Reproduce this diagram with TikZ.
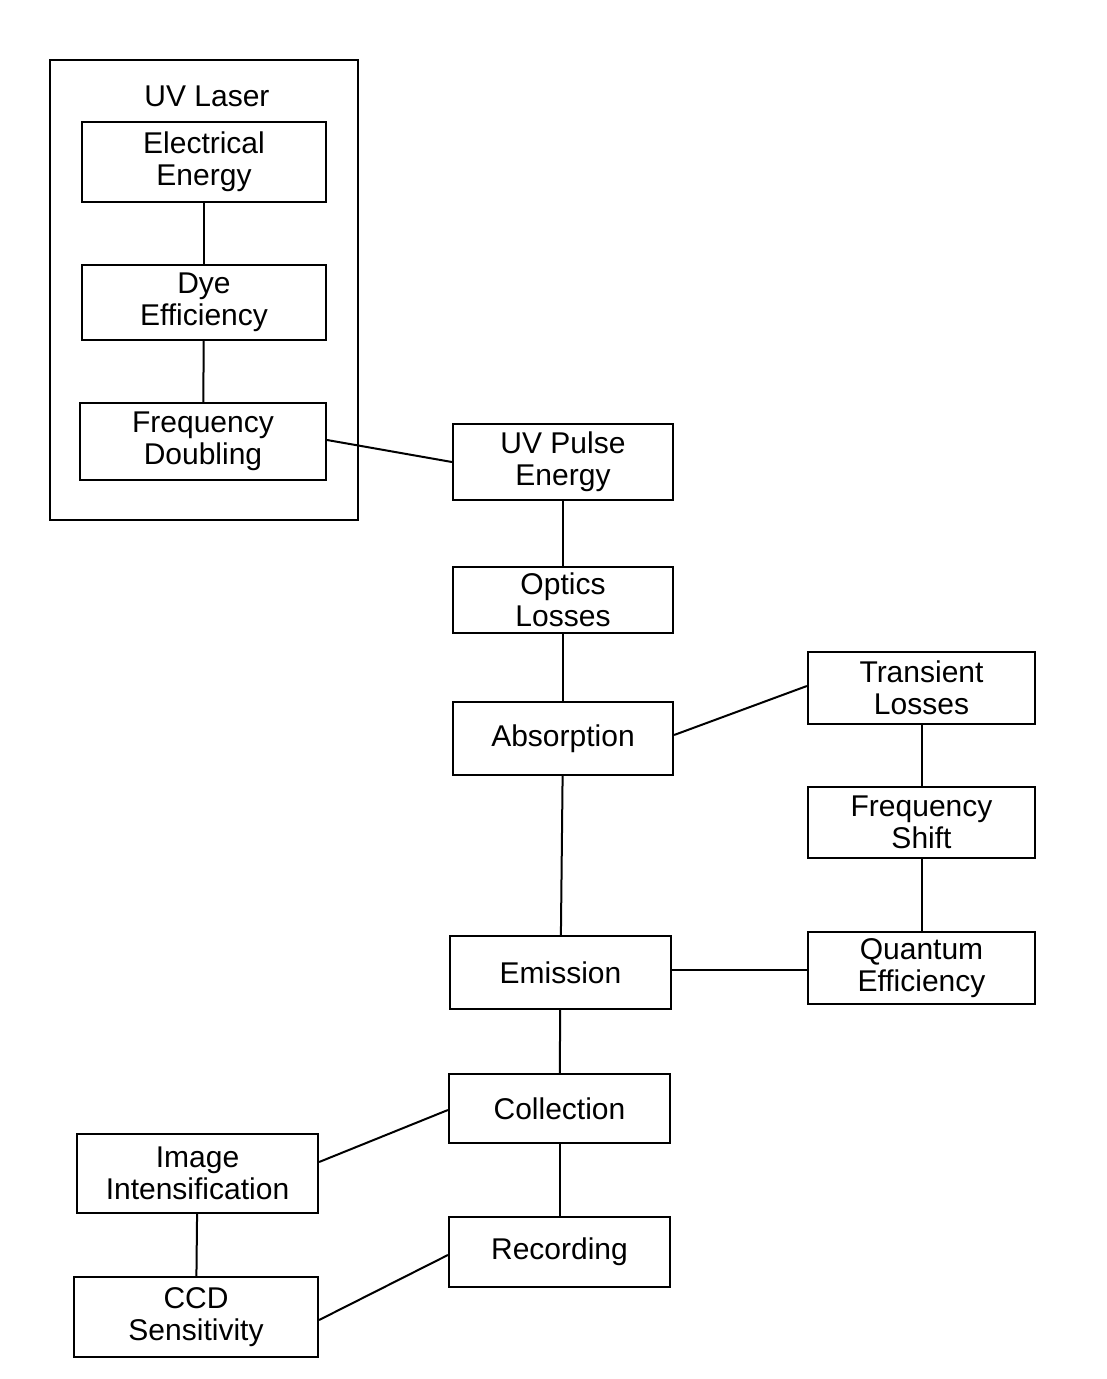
\documentclass[tikz,border=0pt]{standalone}
\usepackage{fontspec}
\setmainfont{Liberation Sans}
\begin{document}
\begin{tikzpicture}[x=1pt,y=-1pt,
  bx/.style={draw,line width=2.2pt,align=center,inner sep=0pt,font=\fontsize{30}{32}\selectfont},
  ln/.style={line width=2pt}]
\useasboundingbox[fill=white] (0,0) rectangle (1106,1379);
\newcommand{\bxat}[6]{\node[bx,minimum width=#4-#2,minimum height=#5-#3] (#1) at ({(#2+#4)/2},{(#3+#5)/2}) {#6};}
\node[draw,line width=2.2pt,minimum width=308,minimum height=460] (laser) at (204,290) {};
\node[font=\fontsize{30}{32}\selectfont] (lasert) at (207,96) {UV Laser};
\bxat{ee}{82}{122}{326}{202}{Electrical\\Energy}
\bxat{dye}{82}{265}{326}{340}{Dye\\Efficiency}
\bxat{fd}{80}{403}{326}{480}{Frequency\\Doubling}
\bxat{uv}{453}{424}{673}{500}{UV Pulse\\Energy}
\bxat{opt}{453}{567}{673}{633}{Optics\\Losses}
\bxat{abs}{453}{702}{673}{775}{Absorption}
\bxat{tl}{808}{652}{1035}{724}{Transient\\Losses}
\bxat{fs}{808}{787}{1035}{858}{Frequency\\Shift}
\bxat{qe}{808}{932}{1035}{1004}{Quantum\\Efficiency}
\bxat{em}{450}{936}{671}{1009}{Emission}
\bxat{col}{449}{1074}{670}{1143}{Collection}
\bxat{ii}{77}{1134}{318}{1213}{Image\\Intensification}
\bxat{rec}{449}{1217}{670}{1287}{Recording}
\bxat{ccd}{74}{1277}{318}{1357}{CCD\\Sensitivity}
\draw[ln] (ee) -- (dye);
\draw[ln] (dye) -- (fd);
\draw[ln] (fd.east |- 0,440) -- (uv.west |- 0,462);
\draw[ln] (uv) -- (opt);
\draw[ln] (opt) -- (abs);
\draw[ln] (abs.east |- 0,735) -- (tl.west |- 0,686);
\draw[ln] (tl) -- (fs);
\draw[ln] (fs) -- (qe);
\draw[ln] (em.east |- 0,970) -- (qe.west |- 0,970);
\draw[ln] (abs) -- (em);
\draw[ln] (em) -- (col);
\draw[ln] (col) -- (rec);
\draw[ln] (ii.east |- 0,1162) -- (col.west |- 0,1110);
\draw[ln] (ii) -- (ccd);
\draw[ln] (ccd.east |- 0,1320) -- (rec.west |- 0,1255);
\end{tikzpicture}
\end{document}
